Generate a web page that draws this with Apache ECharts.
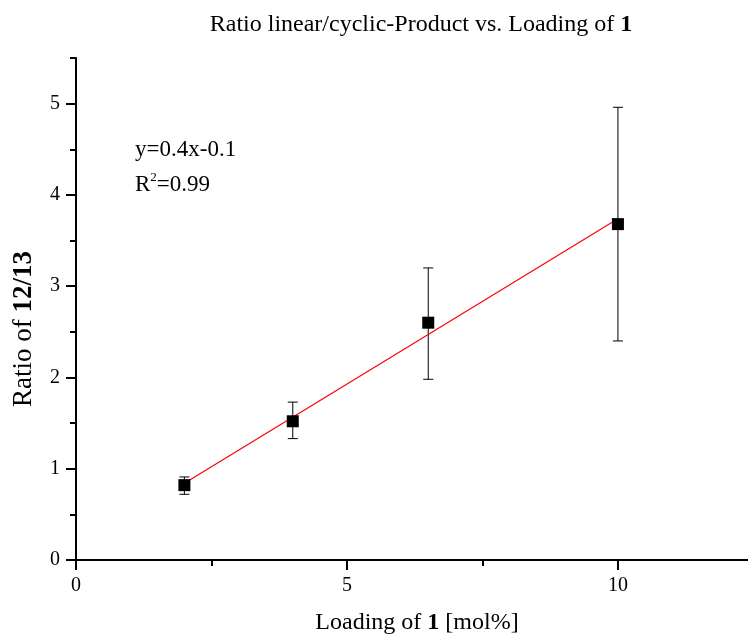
<!DOCTYPE html>
<html>
<head>
<meta charset="utf-8">
<script src="https://cdn.jsdelivr.net/npm/echarts@6/dist/echarts.min.js"></script>
<style>
  html, body { margin: 0; padding: 0; background: #fff; }
  #chart { width: 748px; height: 635px; }
</style>
</head>
<body>
<div id="chart"></div>
<script>
// Catalyst loading [mol%] and measured product ratio with error bounds
const loading = [2, 4, 6.5, 10];
const ratio = [0.82, 1.52, 2.60, 3.68];
const ratioLow = [0.72, 1.33, 1.98, 2.40];
const ratioHigh = [0.91, 1.73, 3.20, 4.96];

// Linear fit drawn across the measured range
const fitX = [2, 10];
const fitY = [0.84, 3.74];

// Axis ticks
const xMajorTicks = [0, 5, 10];
const xMinorTicks = [2.5, 7.5];
const yMajorTicks = [0, 1, 2, 3, 4, 5];
const yMinorTicks = [0.5, 1.5, 2.5, 3.5, 4.5, 5.5];

const FONT = '"Liberation Serif", "DejaVu Serif", serif';

const chart = echarts.init(document.getElementById('chart'), null, { renderer: 'canvas' });

const axisLineStyle = { color: '#000', width: 2 };

function richBold(size) {
  return { b: { fontFamily: FONT, fontSize: size, fontWeight: 'bold', fill: '#000', color: '#000' } };
}

chart.setOption({
  animation: false,
  backgroundColor: '#fff',
  title: {
    text: 'Ratio linear/cyclic-Product vs. Loading of {b|1}',
    left: 416,
    textAlign: 'center',
    top: 8,
    textStyle: {
      fontFamily: FONT, fontSize: 24, fontWeight: 'normal', color: '#000',
      rich: richBold(24)
    }
  },
  grid: { left: 76, top: 58, right: 0, bottom: 75, containLabel: false },
  xAxis: [{
    type: 'value', min: 0, max: 12.4,
    axisLine: { show: true, onZero: false, lineStyle: axisLineStyle },
    axisTick: { show: true, length: 10, inside: false, lineStyle: { color: '#000', width: 2 }, customValues: xMajorTicks },
    axisLabel: { customValues: xMajorTicks, margin: 16, fontFamily: FONT, fontSize: 20, color: '#000' },
    splitLine: { show: false }
  }, {
    type: 'value', min: 0, max: 12.4, position: 'bottom', offset: 0,
    axisLine: { show: false },
    axisTick: { show: true, length: 6, lineStyle: { color: '#000', width: 2 }, customValues: xMinorTicks },
    axisLabel: { show: false },
    splitLine: { show: false }
  }],
  yAxis: [{
    type: 'value', min: 0, max: 5.5,
    axisLine: { show: true, onZero: false, lineStyle: axisLineStyle },
    axisTick: { show: true, length: 10, lineStyle: { color: '#000', width: 2 }, customValues: yMajorTicks },
    axisLabel: { customValues: yMajorTicks, margin: 16, fontFamily: FONT, fontSize: 20, color: '#000' },
    splitLine: { show: false }
  }, {
    type: 'value', min: 0, max: 5.5, position: 'left', offset: 0,
    axisLine: { show: false },
    axisTick: { show: true, length: 6, lineStyle: { color: '#000', width: 2 }, customValues: yMinorTicks },
    axisLabel: { show: false },
    splitLine: { show: false }
  }],
  graphic: [{
    // axis titles
    type: 'text', x: 417, y: 623,
    style: {
      text: 'Loading of {b|1} [mol%]', fontFamily: FONT, fontSize: 24, fill: '#000',
      align: 'center', verticalAlign: 'middle', rich: richBold(24)
    }
  }, {
    type: 'text', x: 24, y: 329, rotation: Math.PI / 2,
    style: {
      text: 'Ratio of {b|12/13}', fontFamily: FONT, fontSize: 27, fill: '#000',
      align: 'center', verticalAlign: 'middle', rich: richBold(27)
    }
  }, {
    // fit annotation
    type: 'text', left: 135, top: 138,
    style: { text: 'y=0.4x-0.1', fontFamily: FONT, fontSize: 23, fill: '#000' }
  }, {
    type: 'text', left: 135, top: 171,
    style: {
      text: 'R{s|2}=0.99', fontFamily: FONT, fontSize: 23, lineHeight: 28, fill: '#000',
      rich: { s: { fontFamily: FONT, fontSize: 13, lineHeight: 28, verticalAlign: 'top' } }
    }
  }],
  series: [{
    name: 'fit',
    type: 'line',
    data: fitX.map((x, i) => [x, fitY[i]]),
    symbol: 'none',
    lineStyle: { color: '#ff0000', width: 1.2 },
    z: 3
  }, {
    name: 'error',
    type: 'custom',
    data: loading.map((x, i) => [x, ratioLow[i], ratioHigh[i]]),
    renderItem: function (params, api) {
      const lo = api.coord([api.value(0), api.value(1)]);
      const hi = api.coord([api.value(0), api.value(2)]);
      const cap = 5;
      const st = { stroke: '#000', lineWidth: 1 };
      return {
        type: 'group',
        children: [
          { type: 'line', shape: { x1: hi[0], y1: hi[1], x2: lo[0], y2: lo[1] }, style: st },
          { type: 'line', shape: { x1: hi[0] - cap, y1: hi[1], x2: hi[0] + cap, y2: hi[1] }, style: st },
          { type: 'line', shape: { x1: lo[0] - cap, y1: lo[1], x2: lo[0] + cap, y2: lo[1] }, style: st }
        ]
      };
    },
    z: 2
  }, {
    name: 'ratio',
    type: 'scatter',
    data: loading.map((x, i) => [x, ratio[i]]),
    symbol: 'rect',
    symbolSize: 12,
    itemStyle: { color: '#000', opacity: 1 },
    z: 4
  }]
});
</script>
</body>
</html>
